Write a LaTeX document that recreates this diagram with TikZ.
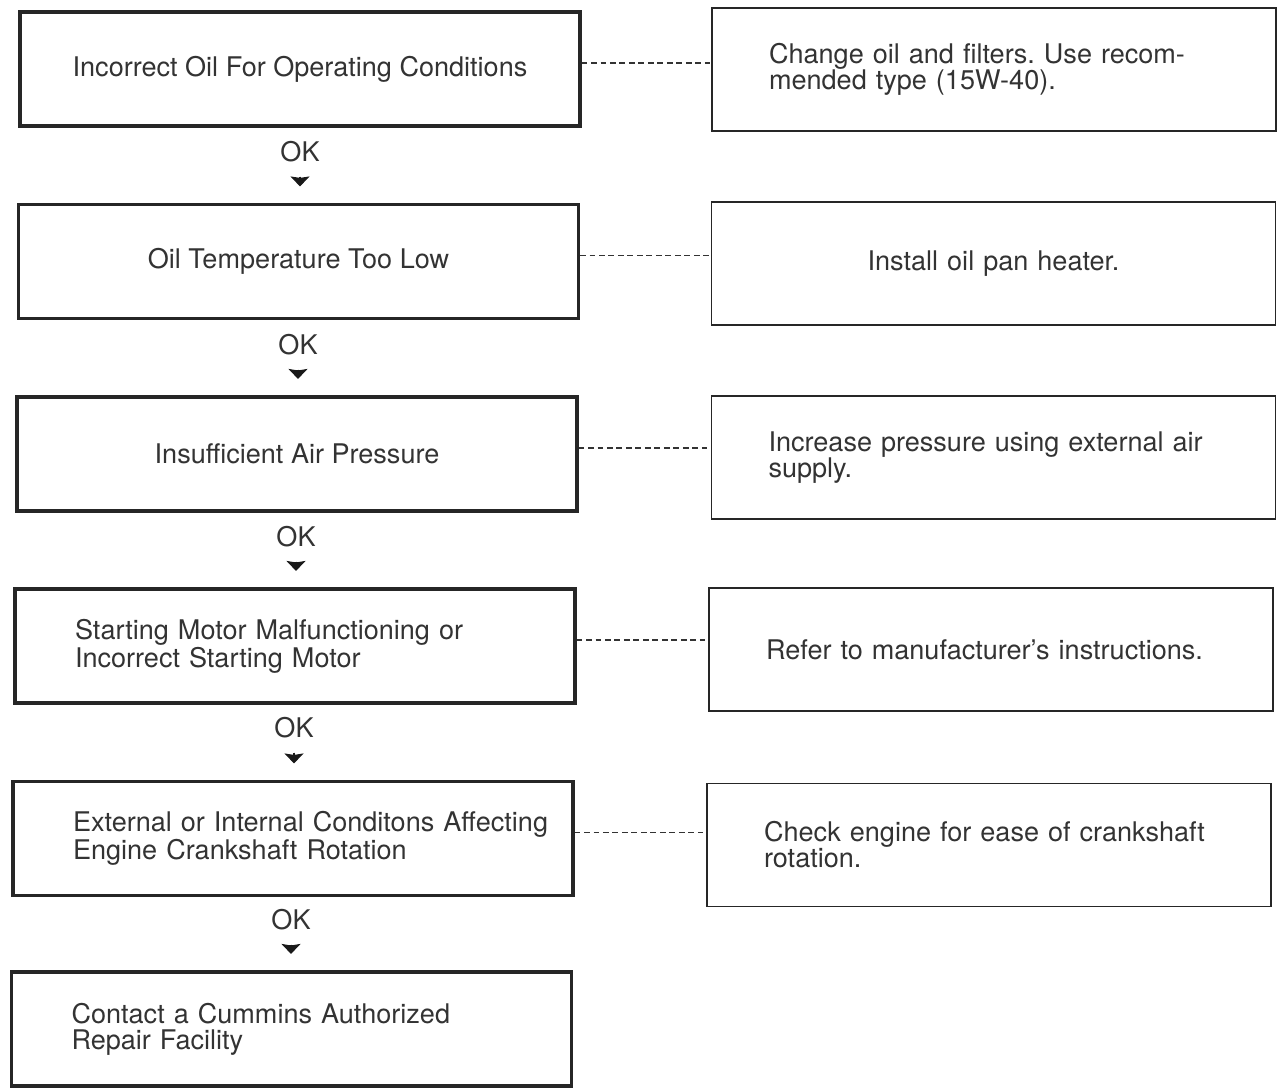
\documentclass[tikz,border=0pt]{standalone}
\usepackage{fontspec}
\setmainfont{TeX Gyre Heros}
\usetikzlibrary{arrows.meta}
\frenchspacing
\tikzset{>={Stealth[length=0.2cm,width=0.38cm,inset=0.03cm]}}
\tikzset{
  lbox/.style={draw=black!85, line width=1.8pt, minimum width=11.2cm,
    minimum height=2.28cm, inner sep=0pt, text=black!80},
  rbox/.style={draw=black!85, line width=1pt, minimum width=11.28cm,
    minimum height=2.46cm, inner sep=0pt, text=black!80},
  ltext/.style={text width=8.8cm, align=left},
  rtext/.style={text width=9cm, align=left},
  oklab/.style={inner sep=0pt, text=black!80},
  okarr/.style={->, line width=0.6pt, draw=black!90, fill=black!90,
    shorten <=0.28cm, shorten >=0.33cm},
  dashline/.style={dash pattern=on 3.2pt off 2.2pt, line width=1.1pt, draw=black!80}
}

\begin{document}
\begin{tikzpicture}[x=0.02cm, y=-0.02cm, font=\fontsize{15.4}{14.8}\selectfont]
      \useasboundingbox (0,0) rectangle (1277,1091);
      % left column: checks
      \node[lbox, align=center] (L1) at (300,69) {Incorrect Oil For Operating Conditions};
      \node[lbox, align=center] (L2) at (298.5,261.5) {Oil Temperature Too Low};
      \node[lbox, align=center] (L3) at (297,454) {Insufficient Air Pressure};
      \node[lbox, ltext] (L4) at (295,646) {Starting Motor Malfunctioning or\\Incorrect Starting Motor};
      \node[lbox, ltext] (L5) at (293,838.5) {\mbox{External or Internal Conditons Affecting}\\Engine Crankshaft Rotation};
      \node[lbox, ltext] (L6) at (291.5,1029) {Contact a Cummins Authorized\\Repair Facility};
      % right column: remedies
      \node[rbox, rtext] (R1) at (994,69.5) {Change oil and filters. Use recom-\\mended type (15W-40).};
      \node[rbox, rtext, align=center] (R2) at (993.5,263.5) {Install oil pan heater.};
      \node[rbox, rtext] (R3) at (993.5,457.5) {Increase pressure using external air\\supply.};
      \node[rbox, rtext] (R4) at (991,649.5) {Refer to manufacturer's instructions.};
      \node[rbox, rtext] (R5) at (989,845) {Check engine for ease of crankshaft\\rotation.};
      % OK steps
      \node[oklab] (K1) at (300,152) {OK};
      \node[oklab] (K2) at (298,345) {OK};
      \node[oklab] (K3) at (296,537) {OK};
      \node[oklab] (K4) at (294,728) {OK};
      \node[oklab] (K5) at (291,920) {OK};
      \draw[okarr] (K1) -- (K1 |- L2.north);
      \draw[okarr] (K2) -- (K2 |- L3.north);
      \draw[okarr] (K3) -- (K3 |- L4.north);
      \draw[okarr] (K4) -- (K4 |- L5.north);
      \draw[okarr] (K5) -- (K5 |- L6.north);
      % dotted links
      \draw[dashline] (L1.east) ++(0,-6) coordinate (D1) -- (D1 -| R1.west);
      \draw[dashline] (L2.east) ++(0,-6) coordinate (D2) -- (D2 -| R2.west);
      \draw[dashline] (L3.east) ++(0,-6) coordinate (D3) -- (D3 -| R3.west);
      \draw[dashline] (L4.east) ++(0,-6) coordinate (D4) -- (D4 -| R4.west);
      \draw[dashline] (L5.east) ++(0,-6) coordinate (D5) -- (D5 -| R5.west);
\end{tikzpicture}
\end{document}
